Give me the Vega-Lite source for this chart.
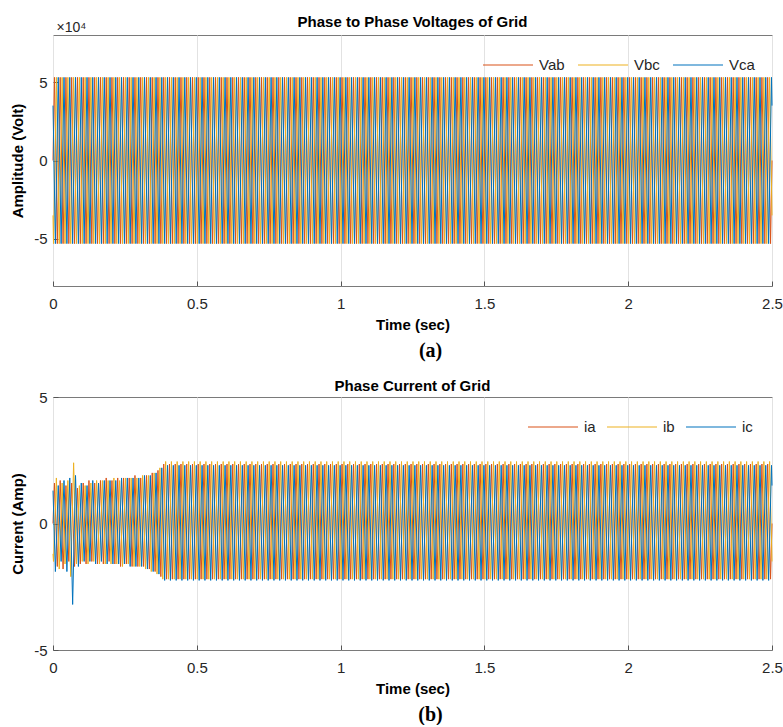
{
"$schema":"https://vega.github.io/schema/vega-lite/v6.json",
"background":"white",
"padding":{"left":10,"top":14,"right":0,"bottom":0},
"spacing":17,
"resolve":{"scale":{"color":"independent"},"legend":{"color":"independent"}},
"config":{
"view":{"stroke":"#7a7a7a","strokeWidth":1},
"font":"Liberation Sans",
"title":{"font":"Liberation Sans","fontSize":15,"fontWeight":"bold","color":"#000000","frame":"group"},
"axis":{"labelFont":"Liberation Sans","labelFontSize":15,"labelColor":"#262626","titleFont":"Liberation Sans","titleFontSize":15,"titleFontWeight":"bold","titleColor":"#000000","domain":false,"tickColor":"#555555","tickSize":-5,"grid":false,"labelFlush":false,"labelOverlap":false,"labelExpr":"''+datum.value"},
"legend":{"title":null,"orient":"none","direction":"horizontal","symbolType":"stroke","symbolSize":2500,"symbolStrokeWidth":1.2,"labelFont":"Liberation Sans","labelFontSize":15,"labelColor":"#262626","labelOffset":5,"columnPadding":10,"padding":0}
},
"datasets":{
"v":[{"t":0,"a":0,"b":-3.5,"c":3.5},
{"t":0.0017,"b":-5.3},{"t":0.005,"a":5.3},{"t":0.0083,"c":-5.3},{"t":0.0117,"b":5.3},{"t":0.015,"a":-5.3},{"t":0.0183,"c":5.3},
{"t":0.0217,"b":-5.3},{"t":0.025,"a":5.3},{"t":0.0283,"c":-5.3},{"t":0.0317,"b":5.3},{"t":0.035,"a":-5.3},{"t":0.0383,"c":5.3},
{"t":0.0417,"b":-5.3},{"t":0.045,"a":5.3},{"t":0.0483,"c":-5.3},{"t":0.0517,"b":5.3},{"t":0.055,"a":-5.3},{"t":0.0583,"c":5.3},
{"t":0.0617,"b":-5.3},{"t":0.065,"a":5.3},{"t":0.0683,"c":-5.3},{"t":0.0717,"b":5.3},{"t":0.075,"a":-5.3},{"t":0.0783,"c":5.3},
{"t":0.0817,"b":-5.3},{"t":0.085,"a":5.3},{"t":0.0883,"c":-5.3},{"t":0.0917,"b":5.3},{"t":0.095,"a":-5.3},{"t":0.0983,"c":5.3},
{"t":0.1017,"b":-5.3},{"t":0.105,"a":5.3},{"t":0.1083,"c":-5.3},{"t":0.1117,"b":5.3},{"t":0.115,"a":-5.3},{"t":0.1183,"c":5.3},
{"t":0.1217,"b":-5.3},{"t":0.125,"a":5.3},{"t":0.1283,"c":-5.3},{"t":0.1317,"b":5.3},{"t":0.135,"a":-5.3},{"t":0.1383,"c":5.3},
{"t":0.1417,"b":-5.3},{"t":0.145,"a":5.3},{"t":0.1483,"c":-5.3},{"t":0.1517,"b":5.3},{"t":0.155,"a":-5.3},{"t":0.1583,"c":5.3},
{"t":0.1617,"b":-5.3},{"t":0.165,"a":5.3},{"t":0.1683,"c":-5.3},{"t":0.1717,"b":5.3},{"t":0.175,"a":-5.3},{"t":0.1783,"c":5.3},
{"t":0.1817,"b":-5.3},{"t":0.185,"a":5.3},{"t":0.1883,"c":-5.3},{"t":0.1917,"b":5.3},{"t":0.195,"a":-5.3},{"t":0.1983,"c":5.3},
{"t":0.2017,"b":-5.3},{"t":0.205,"a":5.3},{"t":0.2083,"c":-5.3},{"t":0.2117,"b":5.3},{"t":0.215,"a":-5.3},{"t":0.2183,"c":5.3},
{"t":0.2217,"b":-5.3},{"t":0.225,"a":5.3},{"t":0.2283,"c":-5.3},{"t":0.2317,"b":5.3},{"t":0.235,"a":-5.3},{"t":0.2383,"c":5.3},
{"t":0.2417,"b":-5.3},{"t":0.245,"a":5.3},{"t":0.2483,"c":-5.3},{"t":0.2517,"b":5.3},{"t":0.255,"a":-5.3},{"t":0.2583,"c":5.3},
{"t":0.2617,"b":-5.3},{"t":0.265,"a":5.3},{"t":0.2683,"c":-5.3},{"t":0.2717,"b":5.3},{"t":0.275,"a":-5.3},{"t":0.2783,"c":5.3},
{"t":0.2817,"b":-5.3},{"t":0.285,"a":5.3},{"t":0.2883,"c":-5.3},{"t":0.2917,"b":5.3},{"t":0.295,"a":-5.3},{"t":0.2983,"c":5.3},
{"t":0.3017,"b":-5.3},{"t":0.305,"a":5.3},{"t":0.3083,"c":-5.3},{"t":0.3117,"b":5.3},{"t":0.315,"a":-5.3},{"t":0.3183,"c":5.3},
{"t":0.3217,"b":-5.3},{"t":0.325,"a":5.3},{"t":0.3283,"c":-5.3},{"t":0.3317,"b":5.3},{"t":0.335,"a":-5.3},{"t":0.3383,"c":5.3},
{"t":0.3417,"b":-5.3},{"t":0.345,"a":5.3},{"t":0.3483,"c":-5.3},{"t":0.3517,"b":5.3},{"t":0.355,"a":-5.3},{"t":0.3583,"c":5.3},
{"t":0.3617,"b":-5.3},{"t":0.365,"a":5.3},{"t":0.3683,"c":-5.3},{"t":0.3717,"b":5.3},{"t":0.375,"a":-5.3},{"t":0.3783,"c":5.3},
{"t":0.3817,"b":-5.3},{"t":0.385,"a":5.3},{"t":0.3883,"c":-5.3},{"t":0.3917,"b":5.3},{"t":0.395,"a":-5.3},{"t":0.3983,"c":5.3},
{"t":0.4017,"b":-5.3},{"t":0.405,"a":5.3},{"t":0.4083,"c":-5.3},{"t":0.4117,"b":5.3},{"t":0.415,"a":-5.3},{"t":0.4183,"c":5.3},
{"t":0.4217,"b":-5.3},{"t":0.425,"a":5.3},{"t":0.4283,"c":-5.3},{"t":0.4317,"b":5.3},{"t":0.435,"a":-5.3},{"t":0.4383,"c":5.3},
{"t":0.4417,"b":-5.3},{"t":0.445,"a":5.3},{"t":0.4483,"c":-5.3},{"t":0.4517,"b":5.3},{"t":0.455,"a":-5.3},{"t":0.4583,"c":5.3},
{"t":0.4617,"b":-5.3},{"t":0.465,"a":5.3},{"t":0.4683,"c":-5.3},{"t":0.4717,"b":5.3},{"t":0.475,"a":-5.3},{"t":0.4783,"c":5.3},
{"t":0.4817,"b":-5.3},{"t":0.485,"a":5.3},{"t":0.4883,"c":-5.3},{"t":0.4917,"b":5.3},{"t":0.495,"a":-5.3},{"t":0.4983,"c":5.3},
{"t":0.5017,"b":-5.3},{"t":0.505,"a":5.3},{"t":0.5083,"c":-5.3},{"t":0.5117,"b":5.3},{"t":0.515,"a":-5.3},{"t":0.5183,"c":5.3},
{"t":0.5217,"b":-5.3},{"t":0.525,"a":5.3},{"t":0.5283,"c":-5.3},{"t":0.5317,"b":5.3},{"t":0.535,"a":-5.3},{"t":0.5383,"c":5.3},
{"t":0.5417,"b":-5.3},{"t":0.545,"a":5.3},{"t":0.5483,"c":-5.3},{"t":0.5517,"b":5.3},{"t":0.555,"a":-5.3},{"t":0.5583,"c":5.3},
{"t":0.5617,"b":-5.3},{"t":0.565,"a":5.3},{"t":0.5683,"c":-5.3},{"t":0.5717,"b":5.3},{"t":0.575,"a":-5.3},{"t":0.5783,"c":5.3},
{"t":0.5817,"b":-5.3},{"t":0.585,"a":5.3},{"t":0.5883,"c":-5.3},{"t":0.5917,"b":5.3},{"t":0.595,"a":-5.3},{"t":0.5983,"c":5.3},
{"t":0.6017,"b":-5.3},{"t":0.605,"a":5.3},{"t":0.6083,"c":-5.3},{"t":0.6117,"b":5.3},{"t":0.615,"a":-5.3},{"t":0.6183,"c":5.3},
{"t":0.6217,"b":-5.3},{"t":0.625,"a":5.3},{"t":0.6283,"c":-5.3},{"t":0.6317,"b":5.3},{"t":0.635,"a":-5.3},{"t":0.6383,"c":5.3},
{"t":0.6417,"b":-5.3},{"t":0.645,"a":5.3},{"t":0.6483,"c":-5.3},{"t":0.6517,"b":5.3},{"t":0.655,"a":-5.3},{"t":0.6583,"c":5.3},
{"t":0.6617,"b":-5.3},{"t":0.665,"a":5.3},{"t":0.6683,"c":-5.3},{"t":0.6717,"b":5.3},{"t":0.675,"a":-5.3},{"t":0.6783,"c":5.3},
{"t":0.6817,"b":-5.3},{"t":0.685,"a":5.3},{"t":0.6883,"c":-5.3},{"t":0.6917,"b":5.3},{"t":0.695,"a":-5.3},{"t":0.6983,"c":5.3},
{"t":0.7017,"b":-5.3},{"t":0.705,"a":5.3},{"t":0.7083,"c":-5.3},{"t":0.7117,"b":5.3},{"t":0.715,"a":-5.3},{"t":0.7183,"c":5.3},
{"t":0.7217,"b":-5.3},{"t":0.725,"a":5.3},{"t":0.7283,"c":-5.3},{"t":0.7317,"b":5.3},{"t":0.735,"a":-5.3},{"t":0.7383,"c":5.3},
{"t":0.7417,"b":-5.3},{"t":0.745,"a":5.3},{"t":0.7483,"c":-5.3},{"t":0.7517,"b":5.3},{"t":0.755,"a":-5.3},{"t":0.7583,"c":5.3},
{"t":0.7617,"b":-5.3},{"t":0.765,"a":5.3},{"t":0.7683,"c":-5.3},{"t":0.7717,"b":5.3},{"t":0.775,"a":-5.3},{"t":0.7783,"c":5.3},
{"t":0.7817,"b":-5.3},{"t":0.785,"a":5.3},{"t":0.7883,"c":-5.3},{"t":0.7917,"b":5.3},{"t":0.795,"a":-5.3},{"t":0.7983,"c":5.3},
{"t":0.8017,"b":-5.3},{"t":0.805,"a":5.3},{"t":0.8083,"c":-5.3},{"t":0.8117,"b":5.3},{"t":0.815,"a":-5.3},{"t":0.8183,"c":5.3},
{"t":0.8217,"b":-5.3},{"t":0.825,"a":5.3},{"t":0.8283,"c":-5.3},{"t":0.8317,"b":5.3},{"t":0.835,"a":-5.3},{"t":0.8383,"c":5.3},
{"t":0.8417,"b":-5.3},{"t":0.845,"a":5.3},{"t":0.8483,"c":-5.3},{"t":0.8517,"b":5.3},{"t":0.855,"a":-5.3},{"t":0.8583,"c":5.3},
{"t":0.8617,"b":-5.3},{"t":0.865,"a":5.3},{"t":0.8683,"c":-5.3},{"t":0.8717,"b":5.3},{"t":0.875,"a":-5.3},{"t":0.8783,"c":5.3},
{"t":0.8817,"b":-5.3},{"t":0.885,"a":5.3},{"t":0.8883,"c":-5.3},{"t":0.8917,"b":5.3},{"t":0.895,"a":-5.3},{"t":0.8983,"c":5.3},
{"t":0.9017,"b":-5.3},{"t":0.905,"a":5.3},{"t":0.9083,"c":-5.3},{"t":0.9117,"b":5.3},{"t":0.915,"a":-5.3},{"t":0.9183,"c":5.3},
{"t":0.9217,"b":-5.3},{"t":0.925,"a":5.3},{"t":0.9283,"c":-5.3},{"t":0.9317,"b":5.3},{"t":0.935,"a":-5.3},{"t":0.9383,"c":5.3},
{"t":0.9417,"b":-5.3},{"t":0.945,"a":5.3},{"t":0.9483,"c":-5.3},{"t":0.9517,"b":5.3},{"t":0.955,"a":-5.3},{"t":0.9583,"c":5.3},
{"t":0.9617,"b":-5.3},{"t":0.965,"a":5.3},{"t":0.9683,"c":-5.3},{"t":0.9717,"b":5.3},{"t":0.975,"a":-5.3},{"t":0.9783,"c":5.3},
{"t":0.9817,"b":-5.3},{"t":0.985,"a":5.3},{"t":0.9883,"c":-5.3},{"t":0.9917,"b":5.3},{"t":0.995,"a":-5.3},{"t":0.9983,"c":5.3},
{"t":1.0017,"b":-5.3},{"t":1.005,"a":5.3},{"t":1.0083,"c":-5.3},{"t":1.0117,"b":5.3},{"t":1.015,"a":-5.3},{"t":1.0183,"c":5.3},
{"t":1.0217,"b":-5.3},{"t":1.025,"a":5.3},{"t":1.0283,"c":-5.3},{"t":1.0317,"b":5.3},{"t":1.035,"a":-5.3},{"t":1.0383,"c":5.3},
{"t":1.0417,"b":-5.3},{"t":1.045,"a":5.3},{"t":1.0483,"c":-5.3},{"t":1.0517,"b":5.3},{"t":1.055,"a":-5.3},{"t":1.0583,"c":5.3},
{"t":1.0617,"b":-5.3},{"t":1.065,"a":5.3},{"t":1.0683,"c":-5.3},{"t":1.0717,"b":5.3},{"t":1.075,"a":-5.3},{"t":1.0783,"c":5.3},
{"t":1.0817,"b":-5.3},{"t":1.085,"a":5.3},{"t":1.0883,"c":-5.3},{"t":1.0917,"b":5.3},{"t":1.095,"a":-5.3},{"t":1.0983,"c":5.3},
{"t":1.1017,"b":-5.3},{"t":1.105,"a":5.3},{"t":1.1083,"c":-5.3},{"t":1.1117,"b":5.3},{"t":1.115,"a":-5.3},{"t":1.1183,"c":5.3},
{"t":1.1217,"b":-5.3},{"t":1.125,"a":5.3},{"t":1.1283,"c":-5.3},{"t":1.1317,"b":5.3},{"t":1.135,"a":-5.3},{"t":1.1383,"c":5.3},
{"t":1.1417,"b":-5.3},{"t":1.145,"a":5.3},{"t":1.1483,"c":-5.3},{"t":1.1517,"b":5.3},{"t":1.155,"a":-5.3},{"t":1.1583,"c":5.3},
{"t":1.1617,"b":-5.3},{"t":1.165,"a":5.3},{"t":1.1683,"c":-5.3},{"t":1.1717,"b":5.3},{"t":1.175,"a":-5.3},{"t":1.1783,"c":5.3},
{"t":1.1817,"b":-5.3},{"t":1.185,"a":5.3},{"t":1.1883,"c":-5.3},{"t":1.1917,"b":5.3},{"t":1.195,"a":-5.3},{"t":1.1983,"c":5.3},
{"t":1.2017,"b":-5.3},{"t":1.205,"a":5.3},{"t":1.2083,"c":-5.3},{"t":1.2117,"b":5.3},{"t":1.215,"a":-5.3},{"t":1.2183,"c":5.3},
{"t":1.2217,"b":-5.3},{"t":1.225,"a":5.3},{"t":1.2283,"c":-5.3},{"t":1.2317,"b":5.3},{"t":1.235,"a":-5.3},{"t":1.2383,"c":5.3},
{"t":1.2417,"b":-5.3},{"t":1.245,"a":5.3},{"t":1.2483,"c":-5.3},{"t":1.2517,"b":5.3},{"t":1.255,"a":-5.3},{"t":1.2583,"c":5.3},
{"t":1.2617,"b":-5.3},{"t":1.265,"a":5.3},{"t":1.2683,"c":-5.3},{"t":1.2717,"b":5.3},{"t":1.275,"a":-5.3},{"t":1.2783,"c":5.3},
{"t":1.2817,"b":-5.3},{"t":1.285,"a":5.3},{"t":1.2883,"c":-5.3},{"t":1.2917,"b":5.3},{"t":1.295,"a":-5.3},{"t":1.2983,"c":5.3},
{"t":1.3017,"b":-5.3},{"t":1.305,"a":5.3},{"t":1.3083,"c":-5.3},{"t":1.3117,"b":5.3},{"t":1.315,"a":-5.3},{"t":1.3183,"c":5.3},
{"t":1.3217,"b":-5.3},{"t":1.325,"a":5.3},{"t":1.3283,"c":-5.3},{"t":1.3317,"b":5.3},{"t":1.335,"a":-5.3},{"t":1.3383,"c":5.3},
{"t":1.3417,"b":-5.3},{"t":1.345,"a":5.3},{"t":1.3483,"c":-5.3},{"t":1.3517,"b":5.3},{"t":1.355,"a":-5.3},{"t":1.3583,"c":5.3},
{"t":1.3617,"b":-5.3},{"t":1.365,"a":5.3},{"t":1.3683,"c":-5.3},{"t":1.3717,"b":5.3},{"t":1.375,"a":-5.3},{"t":1.3783,"c":5.3},
{"t":1.3817,"b":-5.3},{"t":1.385,"a":5.3},{"t":1.3883,"c":-5.3},{"t":1.3917,"b":5.3},{"t":1.395,"a":-5.3},{"t":1.3983,"c":5.3},
{"t":1.4017,"b":-5.3},{"t":1.405,"a":5.3},{"t":1.4083,"c":-5.3},{"t":1.4117,"b":5.3},{"t":1.415,"a":-5.3},{"t":1.4183,"c":5.3},
{"t":1.4217,"b":-5.3},{"t":1.425,"a":5.3},{"t":1.4283,"c":-5.3},{"t":1.4317,"b":5.3},{"t":1.435,"a":-5.3},{"t":1.4383,"c":5.3},
{"t":1.4417,"b":-5.3},{"t":1.445,"a":5.3},{"t":1.4483,"c":-5.3},{"t":1.4517,"b":5.3},{"t":1.455,"a":-5.3},{"t":1.4583,"c":5.3},
{"t":1.4617,"b":-5.3},{"t":1.465,"a":5.3},{"t":1.4683,"c":-5.3},{"t":1.4717,"b":5.3},{"t":1.475,"a":-5.3},{"t":1.4783,"c":5.3},
{"t":1.4817,"b":-5.3},{"t":1.485,"a":5.3},{"t":1.4883,"c":-5.3},{"t":1.4917,"b":5.3},{"t":1.495,"a":-5.3},{"t":1.4983,"c":5.3},
{"t":1.5017,"b":-5.3},{"t":1.505,"a":5.3},{"t":1.5083,"c":-5.3},{"t":1.5117,"b":5.3},{"t":1.515,"a":-5.3},{"t":1.5183,"c":5.3},
{"t":1.5217,"b":-5.3},{"t":1.525,"a":5.3},{"t":1.5283,"c":-5.3},{"t":1.5317,"b":5.3},{"t":1.535,"a":-5.3},{"t":1.5383,"c":5.3},
{"t":1.5417,"b":-5.3},{"t":1.545,"a":5.3},{"t":1.5483,"c":-5.3},{"t":1.5517,"b":5.3},{"t":1.555,"a":-5.3},{"t":1.5583,"c":5.3},
{"t":1.5617,"b":-5.3},{"t":1.565,"a":5.3},{"t":1.5683,"c":-5.3},{"t":1.5717,"b":5.3},{"t":1.575,"a":-5.3},{"t":1.5783,"c":5.3},
{"t":1.5817,"b":-5.3},{"t":1.585,"a":5.3},{"t":1.5883,"c":-5.3},{"t":1.5917,"b":5.3},{"t":1.595,"a":-5.3},{"t":1.5983,"c":5.3},
{"t":1.6017,"b":-5.3},{"t":1.605,"a":5.3},{"t":1.6083,"c":-5.3},{"t":1.6117,"b":5.3},{"t":1.615,"a":-5.3},{"t":1.6183,"c":5.3},
{"t":1.6217,"b":-5.3},{"t":1.625,"a":5.3},{"t":1.6283,"c":-5.3},{"t":1.6317,"b":5.3},{"t":1.635,"a":-5.3},{"t":1.6383,"c":5.3},
{"t":1.6417,"b":-5.3},{"t":1.645,"a":5.3},{"t":1.6483,"c":-5.3},{"t":1.6517,"b":5.3},{"t":1.655,"a":-5.3},{"t":1.6583,"c":5.3},
{"t":1.6617,"b":-5.3},{"t":1.665,"a":5.3},{"t":1.6683,"c":-5.3},{"t":1.6717,"b":5.3},{"t":1.675,"a":-5.3},{"t":1.6783,"c":5.3},
{"t":1.6817,"b":-5.3},{"t":1.685,"a":5.3},{"t":1.6883,"c":-5.3},{"t":1.6917,"b":5.3},{"t":1.695,"a":-5.3},{"t":1.6983,"c":5.3},
{"t":1.7017,"b":-5.3},{"t":1.705,"a":5.3},{"t":1.7083,"c":-5.3},{"t":1.7117,"b":5.3},{"t":1.715,"a":-5.3},{"t":1.7183,"c":5.3},
{"t":1.7217,"b":-5.3},{"t":1.725,"a":5.3},{"t":1.7283,"c":-5.3},{"t":1.7317,"b":5.3},{"t":1.735,"a":-5.3},{"t":1.7383,"c":5.3},
{"t":1.7417,"b":-5.3},{"t":1.745,"a":5.3},{"t":1.7483,"c":-5.3},{"t":1.7517,"b":5.3},{"t":1.755,"a":-5.3},{"t":1.7583,"c":5.3},
{"t":1.7617,"b":-5.3},{"t":1.765,"a":5.3},{"t":1.7683,"c":-5.3},{"t":1.7717,"b":5.3},{"t":1.775,"a":-5.3},{"t":1.7783,"c":5.3},
{"t":1.7817,"b":-5.3},{"t":1.785,"a":5.3},{"t":1.7883,"c":-5.3},{"t":1.7917,"b":5.3},{"t":1.795,"a":-5.3},{"t":1.7983,"c":5.3},
{"t":1.8017,"b":-5.3},{"t":1.805,"a":5.3},{"t":1.8083,"c":-5.3},{"t":1.8117,"b":5.3},{"t":1.815,"a":-5.3},{"t":1.8183,"c":5.3},
{"t":1.8217,"b":-5.3},{"t":1.825,"a":5.3},{"t":1.8283,"c":-5.3},{"t":1.8317,"b":5.3},{"t":1.835,"a":-5.3},{"t":1.8383,"c":5.3},
{"t":1.8417,"b":-5.3},{"t":1.845,"a":5.3},{"t":1.8483,"c":-5.3},{"t":1.8517,"b":5.3},{"t":1.855,"a":-5.3},{"t":1.8583,"c":5.3},
{"t":1.8617,"b":-5.3},{"t":1.865,"a":5.3},{"t":1.8683,"c":-5.3},{"t":1.8717,"b":5.3},{"t":1.875,"a":-5.3},{"t":1.8783,"c":5.3},
{"t":1.8817,"b":-5.3},{"t":1.885,"a":5.3},{"t":1.8883,"c":-5.3},{"t":1.8917,"b":5.3},{"t":1.895,"a":-5.3},{"t":1.8983,"c":5.3},
{"t":1.9017,"b":-5.3},{"t":1.905,"a":5.3},{"t":1.9083,"c":-5.3},{"t":1.9117,"b":5.3},{"t":1.915,"a":-5.3},{"t":1.9183,"c":5.3},
{"t":1.9217,"b":-5.3},{"t":1.925,"a":5.3},{"t":1.9283,"c":-5.3},{"t":1.9317,"b":5.3},{"t":1.935,"a":-5.3},{"t":1.9383,"c":5.3},
{"t":1.9417,"b":-5.3},{"t":1.945,"a":5.3},{"t":1.9483,"c":-5.3},{"t":1.9517,"b":5.3},{"t":1.955,"a":-5.3},{"t":1.9583,"c":5.3},
{"t":1.9617,"b":-5.3},{"t":1.965,"a":5.3},{"t":1.9683,"c":-5.3},{"t":1.9717,"b":5.3},{"t":1.975,"a":-5.3},{"t":1.9783,"c":5.3},
{"t":1.9817,"b":-5.3},{"t":1.985,"a":5.3},{"t":1.9883,"c":-5.3},{"t":1.9917,"b":5.3},{"t":1.995,"a":-5.3},{"t":1.9983,"c":5.3},
{"t":2.0017,"b":-5.3},{"t":2.005,"a":5.3},{"t":2.0083,"c":-5.3},{"t":2.0117,"b":5.3},{"t":2.015,"a":-5.3},{"t":2.0183,"c":5.3},
{"t":2.0217,"b":-5.3},{"t":2.025,"a":5.3},{"t":2.0283,"c":-5.3},{"t":2.0317,"b":5.3},{"t":2.035,"a":-5.3},{"t":2.0383,"c":5.3},
{"t":2.0417,"b":-5.3},{"t":2.045,"a":5.3},{"t":2.0483,"c":-5.3},{"t":2.0517,"b":5.3},{"t":2.055,"a":-5.3},{"t":2.0583,"c":5.3},
{"t":2.0617,"b":-5.3},{"t":2.065,"a":5.3},{"t":2.0683,"c":-5.3},{"t":2.0717,"b":5.3},{"t":2.075,"a":-5.3},{"t":2.0783,"c":5.3},
{"t":2.0817,"b":-5.3},{"t":2.085,"a":5.3},{"t":2.0883,"c":-5.3},{"t":2.0917,"b":5.3},{"t":2.095,"a":-5.3},{"t":2.0983,"c":5.3},
{"t":2.1017,"b":-5.3},{"t":2.105,"a":5.3},{"t":2.1083,"c":-5.3},{"t":2.1117,"b":5.3},{"t":2.115,"a":-5.3},{"t":2.1183,"c":5.3},
{"t":2.1217,"b":-5.3},{"t":2.125,"a":5.3},{"t":2.1283,"c":-5.3},{"t":2.1317,"b":5.3},{"t":2.135,"a":-5.3},{"t":2.1383,"c":5.3},
{"t":2.1417,"b":-5.3},{"t":2.145,"a":5.3},{"t":2.1483,"c":-5.3},{"t":2.1517,"b":5.3},{"t":2.155,"a":-5.3},{"t":2.1583,"c":5.3},
{"t":2.1617,"b":-5.3},{"t":2.165,"a":5.3},{"t":2.1683,"c":-5.3},{"t":2.1717,"b":5.3},{"t":2.175,"a":-5.3},{"t":2.1783,"c":5.3},
{"t":2.1817,"b":-5.3},{"t":2.185,"a":5.3},{"t":2.1883,"c":-5.3},{"t":2.1917,"b":5.3},{"t":2.195,"a":-5.3},{"t":2.1983,"c":5.3},
{"t":2.2017,"b":-5.3},{"t":2.205,"a":5.3},{"t":2.2083,"c":-5.3},{"t":2.2117,"b":5.3},{"t":2.215,"a":-5.3},{"t":2.2183,"c":5.3},
{"t":2.2217,"b":-5.3},{"t":2.225,"a":5.3},{"t":2.2283,"c":-5.3},{"t":2.2317,"b":5.3},{"t":2.235,"a":-5.3},{"t":2.2383,"c":5.3},
{"t":2.2417,"b":-5.3},{"t":2.245,"a":5.3},{"t":2.2483,"c":-5.3},{"t":2.2517,"b":5.3},{"t":2.255,"a":-5.3},{"t":2.2583,"c":5.3},
{"t":2.2617,"b":-5.3},{"t":2.265,"a":5.3},{"t":2.2683,"c":-5.3},{"t":2.2717,"b":5.3},{"t":2.275,"a":-5.3},{"t":2.2783,"c":5.3},
{"t":2.2817,"b":-5.3},{"t":2.285,"a":5.3},{"t":2.2883,"c":-5.3},{"t":2.2917,"b":5.3},{"t":2.295,"a":-5.3},{"t":2.2983,"c":5.3},
{"t":2.3017,"b":-5.3},{"t":2.305,"a":5.3},{"t":2.3083,"c":-5.3},{"t":2.3117,"b":5.3},{"t":2.315,"a":-5.3},{"t":2.3183,"c":5.3},
{"t":2.3217,"b":-5.3},{"t":2.325,"a":5.3},{"t":2.3283,"c":-5.3},{"t":2.3317,"b":5.3},{"t":2.335,"a":-5.3},{"t":2.3383,"c":5.3},
{"t":2.3417,"b":-5.3},{"t":2.345,"a":5.3},{"t":2.3483,"c":-5.3},{"t":2.3517,"b":5.3},{"t":2.355,"a":-5.3},{"t":2.3583,"c":5.3},
{"t":2.3617,"b":-5.3},{"t":2.365,"a":5.3},{"t":2.3683,"c":-5.3},{"t":2.3717,"b":5.3},{"t":2.375,"a":-5.3},{"t":2.3783,"c":5.3},
{"t":2.3817,"b":-5.3},{"t":2.385,"a":5.3},{"t":2.3883,"c":-5.3},{"t":2.3917,"b":5.3},{"t":2.395,"a":-5.3},{"t":2.3983,"c":5.3},
{"t":2.4017,"b":-5.3},{"t":2.405,"a":5.3},{"t":2.4083,"c":-5.3},{"t":2.4117,"b":5.3},{"t":2.415,"a":-5.3},{"t":2.4183,"c":5.3},
{"t":2.4217,"b":-5.3},{"t":2.425,"a":5.3},{"t":2.4283,"c":-5.3},{"t":2.4317,"b":5.3},{"t":2.435,"a":-5.3},{"t":2.4383,"c":5.3},
{"t":2.4417,"b":-5.3},{"t":2.445,"a":5.3},{"t":2.4483,"c":-5.3},{"t":2.4517,"b":5.3},{"t":2.455,"a":-5.3},{"t":2.4583,"c":5.3},
{"t":2.4617,"b":-5.3},{"t":2.465,"a":5.3},{"t":2.4683,"c":-5.3},{"t":2.4717,"b":5.3},{"t":2.475,"a":-5.3},{"t":2.4783,"c":5.3},
{"t":2.4817,"b":-5.3},{"t":2.485,"a":5.3},{"t":2.4883,"c":-5.3},{"t":2.4917,"b":5.3},{"t":2.495,"a":-5.3},{"t":2.4983,"c":5.3},
{"t":2.5,"a":0,"b":-3.5,"c":3.5}],
"i":[{"t":0,"a":0,"b":-1.2,"c":1.3},
{"t":0.0017,"b":-1.5},{"t":0.005,"a":1.6},{"t":0.0083,"c":-1.9},{"t":0.0117,"b":1.8},{"t":0.015,"a":-1.7},{"t":0.0183,"c":1.5},
{"t":0.0217,"b":-1.8},{"t":0.025,"a":1.7},{"t":0.0283,"c":-1.5},{"t":0.0317,"b":1.6},{"t":0.035,"a":-1.8},{"t":0.0383,"c":1.7},
{"t":0.0417,"b":-1.6},{"t":0.045,"a":1.5},{"t":0.0483,"c":-1.9},{"t":0.0517,"b":1.7},{"t":0.055,"a":-1.5},{"t":0.0583,"c":1.8},
{"t":0.0617,"b":-2.1},{"t":0.065,"a":1.6},{"t":0.0683,"c":-3.2},{"t":0.0717,"b":2.4},{"t":0.075,"a":-1.7},{"t":0.0783,"c":1.9},
{"t":0.0817,"b":-1.6},{"t":0.085,"a":1.4},{"t":0.0883,"c":-1.7},{"t":0.0917,"b":1.5},{"t":0.095,"a":-1.6},{"t":0.0983,"c":1.6},
{"t":0.1017,"b":-1.5},{"t":0.105,"a":1.6},{"t":0.1083,"c":-1.5},{"t":0.1117,"b":1.5},{"t":0.115,"a":-1.6},{"t":0.1183,"c":1.5},
{"t":0.1217,"b":-1.6},{"t":0.125,"a":1.7},{"t":0.1283,"c":-1.5},{"t":0.1317,"b":1.6},{"t":0.135,"a":-1.5},{"t":0.1383,"c":1.7},
{"t":0.1417,"b":-1.5},{"t":0.145,"a":1.6},{"t":0.1483,"c":-1.6},{"t":0.1517,"b":1.7},{"t":0.155,"a":-1.6},{"t":0.1583,"c":1.6},
{"t":0.1617,"b":-1.6},{"t":0.165,"a":1.7},{"t":0.1683,"c":-1.5},{"t":0.1717,"b":1.7},{"t":0.175,"a":-1.6},{"t":0.1783,"c":1.7},
{"t":0.1817,"b":-1.6},{"t":0.185,"a":1.8},{"t":0.1883,"c":-1.6},{"t":0.1917,"b":1.7},{"t":0.195,"a":-1.5},{"t":0.1983,"c":1.7},
{"t":0.2017,"b":-1.6},{"t":0.205,"a":1.7},{"t":0.2083,"c":-1.6},{"t":0.2117,"b":1.8},{"t":0.215,"a":-1.6},{"t":0.2183,"c":1.7},
{"t":0.2217,"b":-1.6},{"t":0.225,"a":1.8},{"t":0.2283,"c":-1.6},{"t":0.2317,"b":1.7},{"t":0.235,"a":-1.7},{"t":0.2383,"c":1.8},
{"t":0.2417,"b":-1.7},{"t":0.245,"a":1.8},{"t":0.2483,"c":-1.6},{"t":0.2517,"b":1.8},{"t":0.255,"a":-1.6},{"t":0.2583,"c":1.8},
{"t":0.2617,"b":-1.6},{"t":0.265,"a":1.8},{"t":0.2683,"c":-1.7},{"t":0.2717,"b":1.8},{"t":0.275,"a":-1.7},{"t":0.2783,"c":1.8},
{"t":0.2817,"b":-1.7},{"t":0.285,"a":1.9},{"t":0.2883,"c":-1.7},{"t":0.2917,"b":1.8},{"t":0.295,"a":-1.7},{"t":0.2983,"c":1.8},
{"t":0.3017,"b":-1.7},{"t":0.305,"a":1.8},{"t":0.3083,"c":-1.7},{"t":0.3117,"b":1.9},{"t":0.315,"a":-1.7},{"t":0.3183,"c":1.9},
{"t":0.3217,"b":-1.8},{"t":0.325,"a":1.9},{"t":0.3283,"c":-1.8},{"t":0.3317,"b":1.9},{"t":0.335,"a":-1.8},{"t":0.3383,"c":1.9},
{"t":0.3417,"b":-1.9},{"t":0.345,"a":2.0},{"t":0.3483,"c":-1.9},{"t":0.3517,"b":2.0},{"t":0.355,"a":-1.9},{"t":0.3583,"c":2.0},
{"t":0.3617,"b":-2.0},{"t":0.365,"a":2.1},{"t":0.3683,"c":-2.0},{"t":0.3717,"b":2.2},{"t":0.375,"a":-2.1},{"t":0.3783,"c":2.2},
{"t":0.3817,"b":-2.2},{"t":0.385,"a":2.35},{"t":0.3883,"c":-2.25},{"t":0.3917,"b":2.45},{"t":0.395,"a":-2.2},{"t":0.3983,"c":2.3},
{"t":0.4017,"b":-2.2},{"t":0.405,"a":2.35},{"t":0.4083,"c":-2.25},{"t":0.4117,"b":2.45},{"t":0.415,"a":-2.2},{"t":0.4183,"c":2.3},
{"t":0.4217,"b":-2.2},{"t":0.425,"a":2.35},{"t":0.4283,"c":-2.25},{"t":0.4317,"b":2.45},{"t":0.435,"a":-2.2},{"t":0.4383,"c":2.3},
{"t":0.4417,"b":-2.2},{"t":0.445,"a":2.35},{"t":0.4483,"c":-2.25},{"t":0.4517,"b":2.45},{"t":0.455,"a":-2.2},{"t":0.4583,"c":2.3},
{"t":0.4617,"b":-2.2},{"t":0.465,"a":2.35},{"t":0.4683,"c":-2.25},{"t":0.4717,"b":2.45},{"t":0.475,"a":-2.2},{"t":0.4783,"c":2.3},
{"t":0.4817,"b":-2.2},{"t":0.485,"a":2.35},{"t":0.4883,"c":-2.25},{"t":0.4917,"b":2.45},{"t":0.495,"a":-2.2},{"t":0.4983,"c":2.3},
{"t":0.5017,"b":-2.2},{"t":0.505,"a":2.35},{"t":0.5083,"c":-2.25},{"t":0.5117,"b":2.45},{"t":0.515,"a":-2.2},{"t":0.5183,"c":2.3},
{"t":0.5217,"b":-2.2},{"t":0.525,"a":2.35},{"t":0.5283,"c":-2.25},{"t":0.5317,"b":2.45},{"t":0.535,"a":-2.2},{"t":0.5383,"c":2.3},
{"t":0.5417,"b":-2.2},{"t":0.545,"a":2.35},{"t":0.5483,"c":-2.25},{"t":0.5517,"b":2.45},{"t":0.555,"a":-2.2},{"t":0.5583,"c":2.3},
{"t":0.5617,"b":-2.2},{"t":0.565,"a":2.35},{"t":0.5683,"c":-2.25},{"t":0.5717,"b":2.45},{"t":0.575,"a":-2.2},{"t":0.5783,"c":2.3},
{"t":0.5817,"b":-2.2},{"t":0.585,"a":2.35},{"t":0.5883,"c":-2.25},{"t":0.5917,"b":2.45},{"t":0.595,"a":-2.2},{"t":0.5983,"c":2.3},
{"t":0.6017,"b":-2.2},{"t":0.605,"a":2.35},{"t":0.6083,"c":-2.25},{"t":0.6117,"b":2.45},{"t":0.615,"a":-2.2},{"t":0.6183,"c":2.3},
{"t":0.6217,"b":-2.2},{"t":0.625,"a":2.35},{"t":0.6283,"c":-2.25},{"t":0.6317,"b":2.45},{"t":0.635,"a":-2.2},{"t":0.6383,"c":2.3},
{"t":0.6417,"b":-2.2},{"t":0.645,"a":2.35},{"t":0.6483,"c":-2.25},{"t":0.6517,"b":2.45},{"t":0.655,"a":-2.2},{"t":0.6583,"c":2.3},
{"t":0.6617,"b":-2.2},{"t":0.665,"a":2.35},{"t":0.6683,"c":-2.25},{"t":0.6717,"b":2.45},{"t":0.675,"a":-2.2},{"t":0.6783,"c":2.3},
{"t":0.6817,"b":-2.2},{"t":0.685,"a":2.35},{"t":0.6883,"c":-2.25},{"t":0.6917,"b":2.45},{"t":0.695,"a":-2.2},{"t":0.6983,"c":2.3},
{"t":0.7017,"b":-2.2},{"t":0.705,"a":2.35},{"t":0.7083,"c":-2.25},{"t":0.7117,"b":2.45},{"t":0.715,"a":-2.2},{"t":0.7183,"c":2.3},
{"t":0.7217,"b":-2.2},{"t":0.725,"a":2.35},{"t":0.7283,"c":-2.25},{"t":0.7317,"b":2.45},{"t":0.735,"a":-2.2},{"t":0.7383,"c":2.3},
{"t":0.7417,"b":-2.2},{"t":0.745,"a":2.35},{"t":0.7483,"c":-2.25},{"t":0.7517,"b":2.45},{"t":0.755,"a":-2.2},{"t":0.7583,"c":2.3},
{"t":0.7617,"b":-2.2},{"t":0.765,"a":2.35},{"t":0.7683,"c":-2.25},{"t":0.7717,"b":2.45},{"t":0.775,"a":-2.2},{"t":0.7783,"c":2.3},
{"t":0.7817,"b":-2.2},{"t":0.785,"a":2.35},{"t":0.7883,"c":-2.25},{"t":0.7917,"b":2.45},{"t":0.795,"a":-2.2},{"t":0.7983,"c":2.3},
{"t":0.8017,"b":-2.2},{"t":0.805,"a":2.35},{"t":0.8083,"c":-2.25},{"t":0.8117,"b":2.45},{"t":0.815,"a":-2.2},{"t":0.8183,"c":2.3},
{"t":0.8217,"b":-2.2},{"t":0.825,"a":2.35},{"t":0.8283,"c":-2.25},{"t":0.8317,"b":2.45},{"t":0.835,"a":-2.2},{"t":0.8383,"c":2.3},
{"t":0.8417,"b":-2.2},{"t":0.845,"a":2.35},{"t":0.8483,"c":-2.25},{"t":0.8517,"b":2.45},{"t":0.855,"a":-2.2},{"t":0.8583,"c":2.3},
{"t":0.8617,"b":-2.2},{"t":0.865,"a":2.35},{"t":0.8683,"c":-2.25},{"t":0.8717,"b":2.45},{"t":0.875,"a":-2.2},{"t":0.8783,"c":2.3},
{"t":0.8817,"b":-2.2},{"t":0.885,"a":2.35},{"t":0.8883,"c":-2.25},{"t":0.8917,"b":2.45},{"t":0.895,"a":-2.2},{"t":0.8983,"c":2.3},
{"t":0.9017,"b":-2.2},{"t":0.905,"a":2.35},{"t":0.9083,"c":-2.25},{"t":0.9117,"b":2.45},{"t":0.915,"a":-2.2},{"t":0.9183,"c":2.3},
{"t":0.9217,"b":-2.2},{"t":0.925,"a":2.35},{"t":0.9283,"c":-2.25},{"t":0.9317,"b":2.45},{"t":0.935,"a":-2.2},{"t":0.9383,"c":2.3},
{"t":0.9417,"b":-2.2},{"t":0.945,"a":2.35},{"t":0.9483,"c":-2.25},{"t":0.9517,"b":2.45},{"t":0.955,"a":-2.2},{"t":0.9583,"c":2.3},
{"t":0.9617,"b":-2.2},{"t":0.965,"a":2.35},{"t":0.9683,"c":-2.25},{"t":0.9717,"b":2.45},{"t":0.975,"a":-2.2},{"t":0.9783,"c":2.3},
{"t":0.9817,"b":-2.2},{"t":0.985,"a":2.35},{"t":0.9883,"c":-2.25},{"t":0.9917,"b":2.45},{"t":0.995,"a":-2.2},{"t":0.9983,"c":2.3},
{"t":1.0017,"b":-2.2},{"t":1.005,"a":2.35},{"t":1.0083,"c":-2.25},{"t":1.0117,"b":2.45},{"t":1.015,"a":-2.2},{"t":1.0183,"c":2.3},
{"t":1.0217,"b":-2.2},{"t":1.025,"a":2.35},{"t":1.0283,"c":-2.25},{"t":1.0317,"b":2.45},{"t":1.035,"a":-2.2},{"t":1.0383,"c":2.3},
{"t":1.0417,"b":-2.2},{"t":1.045,"a":2.35},{"t":1.0483,"c":-2.25},{"t":1.0517,"b":2.45},{"t":1.055,"a":-2.2},{"t":1.0583,"c":2.3},
{"t":1.0617,"b":-2.2},{"t":1.065,"a":2.35},{"t":1.0683,"c":-2.25},{"t":1.0717,"b":2.45},{"t":1.075,"a":-2.2},{"t":1.0783,"c":2.3},
{"t":1.0817,"b":-2.2},{"t":1.085,"a":2.35},{"t":1.0883,"c":-2.25},{"t":1.0917,"b":2.45},{"t":1.095,"a":-2.2},{"t":1.0983,"c":2.3},
{"t":1.1017,"b":-2.2},{"t":1.105,"a":2.35},{"t":1.1083,"c":-2.25},{"t":1.1117,"b":2.45},{"t":1.115,"a":-2.2},{"t":1.1183,"c":2.3},
{"t":1.1217,"b":-2.2},{"t":1.125,"a":2.35},{"t":1.1283,"c":-2.25},{"t":1.1317,"b":2.45},{"t":1.135,"a":-2.2},{"t":1.1383,"c":2.3},
{"t":1.1417,"b":-2.2},{"t":1.145,"a":2.35},{"t":1.1483,"c":-2.25},{"t":1.1517,"b":2.45},{"t":1.155,"a":-2.2},{"t":1.1583,"c":2.3},
{"t":1.1617,"b":-2.2},{"t":1.165,"a":2.35},{"t":1.1683,"c":-2.25},{"t":1.1717,"b":2.45},{"t":1.175,"a":-2.2},{"t":1.1783,"c":2.3},
{"t":1.1817,"b":-2.2},{"t":1.185,"a":2.35},{"t":1.1883,"c":-2.25},{"t":1.1917,"b":2.45},{"t":1.195,"a":-2.2},{"t":1.1983,"c":2.3},
{"t":1.2017,"b":-2.2},{"t":1.205,"a":2.35},{"t":1.2083,"c":-2.25},{"t":1.2117,"b":2.45},{"t":1.215,"a":-2.2},{"t":1.2183,"c":2.3},
{"t":1.2217,"b":-2.2},{"t":1.225,"a":2.35},{"t":1.2283,"c":-2.25},{"t":1.2317,"b":2.45},{"t":1.235,"a":-2.2},{"t":1.2383,"c":2.3},
{"t":1.2417,"b":-2.2},{"t":1.245,"a":2.35},{"t":1.2483,"c":-2.25},{"t":1.2517,"b":2.45},{"t":1.255,"a":-2.2},{"t":1.2583,"c":2.3},
{"t":1.2617,"b":-2.2},{"t":1.265,"a":2.35},{"t":1.2683,"c":-2.25},{"t":1.2717,"b":2.45},{"t":1.275,"a":-2.2},{"t":1.2783,"c":2.3},
{"t":1.2817,"b":-2.2},{"t":1.285,"a":2.35},{"t":1.2883,"c":-2.25},{"t":1.2917,"b":2.45},{"t":1.295,"a":-2.2},{"t":1.2983,"c":2.3},
{"t":1.3017,"b":-2.2},{"t":1.305,"a":2.35},{"t":1.3083,"c":-2.25},{"t":1.3117,"b":2.45},{"t":1.315,"a":-2.2},{"t":1.3183,"c":2.3},
{"t":1.3217,"b":-2.2},{"t":1.325,"a":2.35},{"t":1.3283,"c":-2.25},{"t":1.3317,"b":2.45},{"t":1.335,"a":-2.2},{"t":1.3383,"c":2.3},
{"t":1.3417,"b":-2.2},{"t":1.345,"a":2.35},{"t":1.3483,"c":-2.25},{"t":1.3517,"b":2.45},{"t":1.355,"a":-2.2},{"t":1.3583,"c":2.3},
{"t":1.3617,"b":-2.2},{"t":1.365,"a":2.35},{"t":1.3683,"c":-2.25},{"t":1.3717,"b":2.45},{"t":1.375,"a":-2.2},{"t":1.3783,"c":2.3},
{"t":1.3817,"b":-2.2},{"t":1.385,"a":2.35},{"t":1.3883,"c":-2.25},{"t":1.3917,"b":2.45},{"t":1.395,"a":-2.2},{"t":1.3983,"c":2.3},
{"t":1.4017,"b":-2.2},{"t":1.405,"a":2.35},{"t":1.4083,"c":-2.25},{"t":1.4117,"b":2.45},{"t":1.415,"a":-2.2},{"t":1.4183,"c":2.3},
{"t":1.4217,"b":-2.2},{"t":1.425,"a":2.35},{"t":1.4283,"c":-2.25},{"t":1.4317,"b":2.45},{"t":1.435,"a":-2.2},{"t":1.4383,"c":2.3},
{"t":1.4417,"b":-2.2},{"t":1.445,"a":2.35},{"t":1.4483,"c":-2.25},{"t":1.4517,"b":2.45},{"t":1.455,"a":-2.2},{"t":1.4583,"c":2.3},
{"t":1.4617,"b":-2.2},{"t":1.465,"a":2.35},{"t":1.4683,"c":-2.25},{"t":1.4717,"b":2.45},{"t":1.475,"a":-2.2},{"t":1.4783,"c":2.3},
{"t":1.4817,"b":-2.2},{"t":1.485,"a":2.35},{"t":1.4883,"c":-2.25},{"t":1.4917,"b":2.45},{"t":1.495,"a":-2.2},{"t":1.4983,"c":2.3},
{"t":1.5017,"b":-2.2},{"t":1.505,"a":2.35},{"t":1.5083,"c":-2.25},{"t":1.5117,"b":2.45},{"t":1.515,"a":-2.2},{"t":1.5183,"c":2.3},
{"t":1.5217,"b":-2.2},{"t":1.525,"a":2.35},{"t":1.5283,"c":-2.25},{"t":1.5317,"b":2.45},{"t":1.535,"a":-2.2},{"t":1.5383,"c":2.3},
{"t":1.5417,"b":-2.2},{"t":1.545,"a":2.35},{"t":1.5483,"c":-2.25},{"t":1.5517,"b":2.45},{"t":1.555,"a":-2.2},{"t":1.5583,"c":2.3},
{"t":1.5617,"b":-2.2},{"t":1.565,"a":2.35},{"t":1.5683,"c":-2.25},{"t":1.5717,"b":2.45},{"t":1.575,"a":-2.2},{"t":1.5783,"c":2.3},
{"t":1.5817,"b":-2.2},{"t":1.585,"a":2.35},{"t":1.5883,"c":-2.25},{"t":1.5917,"b":2.45},{"t":1.595,"a":-2.2},{"t":1.5983,"c":2.3},
{"t":1.6017,"b":-2.2},{"t":1.605,"a":2.35},{"t":1.6083,"c":-2.25},{"t":1.6117,"b":2.45},{"t":1.615,"a":-2.2},{"t":1.6183,"c":2.3},
{"t":1.6217,"b":-2.2},{"t":1.625,"a":2.35},{"t":1.6283,"c":-2.25},{"t":1.6317,"b":2.45},{"t":1.635,"a":-2.2},{"t":1.6383,"c":2.3},
{"t":1.6417,"b":-2.2},{"t":1.645,"a":2.35},{"t":1.6483,"c":-2.25},{"t":1.6517,"b":2.45},{"t":1.655,"a":-2.2},{"t":1.6583,"c":2.3},
{"t":1.6617,"b":-2.2},{"t":1.665,"a":2.35},{"t":1.6683,"c":-2.25},{"t":1.6717,"b":2.45},{"t":1.675,"a":-2.2},{"t":1.6783,"c":2.3},
{"t":1.6817,"b":-2.2},{"t":1.685,"a":2.35},{"t":1.6883,"c":-2.25},{"t":1.6917,"b":2.45},{"t":1.695,"a":-2.2},{"t":1.6983,"c":2.3},
{"t":1.7017,"b":-2.2},{"t":1.705,"a":2.35},{"t":1.7083,"c":-2.25},{"t":1.7117,"b":2.45},{"t":1.715,"a":-2.2},{"t":1.7183,"c":2.3},
{"t":1.7217,"b":-2.2},{"t":1.725,"a":2.35},{"t":1.7283,"c":-2.25},{"t":1.7317,"b":2.45},{"t":1.735,"a":-2.2},{"t":1.7383,"c":2.3},
{"t":1.7417,"b":-2.2},{"t":1.745,"a":2.35},{"t":1.7483,"c":-2.25},{"t":1.7517,"b":2.45},{"t":1.755,"a":-2.2},{"t":1.7583,"c":2.3},
{"t":1.7617,"b":-2.2},{"t":1.765,"a":2.35},{"t":1.7683,"c":-2.25},{"t":1.7717,"b":2.45},{"t":1.775,"a":-2.2},{"t":1.7783,"c":2.3},
{"t":1.7817,"b":-2.2},{"t":1.785,"a":2.35},{"t":1.7883,"c":-2.25},{"t":1.7917,"b":2.45},{"t":1.795,"a":-2.2},{"t":1.7983,"c":2.3},
{"t":1.8017,"b":-2.2},{"t":1.805,"a":2.35},{"t":1.8083,"c":-2.25},{"t":1.8117,"b":2.45},{"t":1.815,"a":-2.2},{"t":1.8183,"c":2.3},
{"t":1.8217,"b":-2.2},{"t":1.825,"a":2.35},{"t":1.8283,"c":-2.25},{"t":1.8317,"b":2.45},{"t":1.835,"a":-2.2},{"t":1.8383,"c":2.3},
{"t":1.8417,"b":-2.2},{"t":1.845,"a":2.35},{"t":1.8483,"c":-2.25},{"t":1.8517,"b":2.45},{"t":1.855,"a":-2.2},{"t":1.8583,"c":2.3},
{"t":1.8617,"b":-2.2},{"t":1.865,"a":2.35},{"t":1.8683,"c":-2.25},{"t":1.8717,"b":2.45},{"t":1.875,"a":-2.2},{"t":1.8783,"c":2.3},
{"t":1.8817,"b":-2.2},{"t":1.885,"a":2.35},{"t":1.8883,"c":-2.25},{"t":1.8917,"b":2.45},{"t":1.895,"a":-2.2},{"t":1.8983,"c":2.3},
{"t":1.9017,"b":-2.2},{"t":1.905,"a":2.35},{"t":1.9083,"c":-2.25},{"t":1.9117,"b":2.45},{"t":1.915,"a":-2.2},{"t":1.9183,"c":2.3},
{"t":1.9217,"b":-2.2},{"t":1.925,"a":2.35},{"t":1.9283,"c":-2.25},{"t":1.9317,"b":2.45},{"t":1.935,"a":-2.2},{"t":1.9383,"c":2.3},
{"t":1.9417,"b":-2.2},{"t":1.945,"a":2.35},{"t":1.9483,"c":-2.25},{"t":1.9517,"b":2.45},{"t":1.955,"a":-2.2},{"t":1.9583,"c":2.3},
{"t":1.9617,"b":-2.2},{"t":1.965,"a":2.35},{"t":1.9683,"c":-2.25},{"t":1.9717,"b":2.45},{"t":1.975,"a":-2.2},{"t":1.9783,"c":2.3},
{"t":1.9817,"b":-2.2},{"t":1.985,"a":2.35},{"t":1.9883,"c":-2.25},{"t":1.9917,"b":2.45},{"t":1.995,"a":-2.2},{"t":1.9983,"c":2.3},
{"t":2.0017,"b":-2.2},{"t":2.005,"a":2.35},{"t":2.0083,"c":-2.25},{"t":2.0117,"b":2.45},{"t":2.015,"a":-2.2},{"t":2.0183,"c":2.3},
{"t":2.0217,"b":-2.2},{"t":2.025,"a":2.35},{"t":2.0283,"c":-2.25},{"t":2.0317,"b":2.45},{"t":2.035,"a":-2.2},{"t":2.0383,"c":2.3},
{"t":2.0417,"b":-2.2},{"t":2.045,"a":2.35},{"t":2.0483,"c":-2.25},{"t":2.0517,"b":2.45},{"t":2.055,"a":-2.2},{"t":2.0583,"c":2.3},
{"t":2.0617,"b":-2.2},{"t":2.065,"a":2.35},{"t":2.0683,"c":-2.25},{"t":2.0717,"b":2.45},{"t":2.075,"a":-2.2},{"t":2.0783,"c":2.3},
{"t":2.0817,"b":-2.2},{"t":2.085,"a":2.35},{"t":2.0883,"c":-2.25},{"t":2.0917,"b":2.45},{"t":2.095,"a":-2.2},{"t":2.0983,"c":2.3},
{"t":2.1017,"b":-2.2},{"t":2.105,"a":2.35},{"t":2.1083,"c":-2.25},{"t":2.1117,"b":2.45},{"t":2.115,"a":-2.2},{"t":2.1183,"c":2.3},
{"t":2.1217,"b":-2.2},{"t":2.125,"a":2.35},{"t":2.1283,"c":-2.25},{"t":2.1317,"b":2.45},{"t":2.135,"a":-2.2},{"t":2.1383,"c":2.3},
{"t":2.1417,"b":-2.2},{"t":2.145,"a":2.35},{"t":2.1483,"c":-2.25},{"t":2.1517,"b":2.45},{"t":2.155,"a":-2.2},{"t":2.1583,"c":2.3},
{"t":2.1617,"b":-2.2},{"t":2.165,"a":2.35},{"t":2.1683,"c":-2.25},{"t":2.1717,"b":2.45},{"t":2.175,"a":-2.2},{"t":2.1783,"c":2.3},
{"t":2.1817,"b":-2.2},{"t":2.185,"a":2.35},{"t":2.1883,"c":-2.25},{"t":2.1917,"b":2.45},{"t":2.195,"a":-2.2},{"t":2.1983,"c":2.3},
{"t":2.2017,"b":-2.2},{"t":2.205,"a":2.35},{"t":2.2083,"c":-2.25},{"t":2.2117,"b":2.45},{"t":2.215,"a":-2.2},{"t":2.2183,"c":2.3},
{"t":2.2217,"b":-2.2},{"t":2.225,"a":2.35},{"t":2.2283,"c":-2.25},{"t":2.2317,"b":2.45},{"t":2.235,"a":-2.2},{"t":2.2383,"c":2.3},
{"t":2.2417,"b":-2.2},{"t":2.245,"a":2.35},{"t":2.2483,"c":-2.25},{"t":2.2517,"b":2.45},{"t":2.255,"a":-2.2},{"t":2.2583,"c":2.3},
{"t":2.2617,"b":-2.2},{"t":2.265,"a":2.35},{"t":2.2683,"c":-2.25},{"t":2.2717,"b":2.45},{"t":2.275,"a":-2.2},{"t":2.2783,"c":2.3},
{"t":2.2817,"b":-2.2},{"t":2.285,"a":2.35},{"t":2.2883,"c":-2.25},{"t":2.2917,"b":2.45},{"t":2.295,"a":-2.2},{"t":2.2983,"c":2.3},
{"t":2.3017,"b":-2.2},{"t":2.305,"a":2.35},{"t":2.3083,"c":-2.25},{"t":2.3117,"b":2.45},{"t":2.315,"a":-2.2},{"t":2.3183,"c":2.3},
{"t":2.3217,"b":-2.2},{"t":2.325,"a":2.35},{"t":2.3283,"c":-2.25},{"t":2.3317,"b":2.45},{"t":2.335,"a":-2.2},{"t":2.3383,"c":2.3},
{"t":2.3417,"b":-2.2},{"t":2.345,"a":2.35},{"t":2.3483,"c":-2.25},{"t":2.3517,"b":2.45},{"t":2.355,"a":-2.2},{"t":2.3583,"c":2.3},
{"t":2.3617,"b":-2.2},{"t":2.365,"a":2.35},{"t":2.3683,"c":-2.25},{"t":2.3717,"b":2.45},{"t":2.375,"a":-2.2},{"t":2.3783,"c":2.3},
{"t":2.3817,"b":-2.2},{"t":2.385,"a":2.35},{"t":2.3883,"c":-2.25},{"t":2.3917,"b":2.45},{"t":2.395,"a":-2.2},{"t":2.3983,"c":2.3},
{"t":2.4017,"b":-2.2},{"t":2.405,"a":2.35},{"t":2.4083,"c":-2.25},{"t":2.4117,"b":2.45},{"t":2.415,"a":-2.2},{"t":2.4183,"c":2.3},
{"t":2.4217,"b":-2.2},{"t":2.425,"a":2.35},{"t":2.4283,"c":-2.25},{"t":2.4317,"b":2.45},{"t":2.435,"a":-2.2},{"t":2.4383,"c":2.3},
{"t":2.4417,"b":-2.2},{"t":2.445,"a":2.35},{"t":2.4483,"c":-2.25},{"t":2.4517,"b":2.45},{"t":2.455,"a":-2.2},{"t":2.4583,"c":2.3},
{"t":2.4617,"b":-2.2},{"t":2.465,"a":2.35},{"t":2.4683,"c":-2.25},{"t":2.4717,"b":2.45},{"t":2.475,"a":-2.2},{"t":2.4783,"c":2.3},
{"t":2.4817,"b":-2.2},{"t":2.485,"a":2.35},{"t":2.4883,"c":-2.25},{"t":2.4917,"b":2.45},{"t":2.495,"a":-2.2},{"t":2.4983,"c":2.3},
{"t":2.5,"a":0,"b":-1.5,"c":1.5}]
},
"vconcat":[
{"title":{"text":"(a)","orient":"bottom","font":"Liberation Serif","fontSize":20,"fontWeight":"bold","offset":8,"anchor":"middle","frame":"bounds","dx":34},
 "vconcat":[
 {"title":{"text":"Phase to Phase Voltages of Grid","offset":-9.5},
  "width":719,"height":251,
  "layer":[
   {"data":{"name":"v"},
    "transform":[{"fold":["a","b","c"],"as":["s","v"]},{"filter":"isValid(datum.v)"}],
    "mark":{"type":"line","strokeWidth":1},
    "encoding":{
     "x":{"field":"t","type":"quantitative","scale":{"domain":[0,2.5],"nice":false,"zero":false},"axis":{"title":"Time (sec)","values":[0,0.5,1,1.5,2,2.5],"grid":true,"gridColor":"#e2e2e2","labelPadding":15,"titlePadding":6}},
     "y":{"field":"v","type":"quantitative","scale":{"domain":[-8,8],"nice":false,"zero":false},"axis":{"title":"Amplitude (Volt)","values":[-5,0,5],"labelPadding":11,"titlePadding":8}},
     "color":{"field":"s","type":"nominal","scale":{"domain":["a","b","c"],"range":["#D95319","#EDB120","#0072BD"]},"legend":{"legendX":429,"legendY":4,"labelExpr":"datum.label=='a'?'Vab':datum.label=='b'?'Vbc':'Vca'"}}
    }},
   {"data":{"values":[]},
    "mark":"rule",
    "encoding":{"y":{"field":"v","type":"quantitative","scale":{"domain":[-8,8],"nice":false,"zero":false},"axis":{"orient":"left","title":"×10⁴","titleAngle":0,"titleAlign":"left","titleBaseline":"alphabetic","titleX":3,"titleY":-4,"titleFontWeight":"normal","titleFontSize":14,"titleColor":"#262626","labels":false,"ticks":false,"domain":false,"grid":false}}}}
  ],
  "resolve":{"axis":{"y":"independent"}}
 }]
},
{"title":{"text":"(b)","orient":"bottom","font":"Liberation Serif","fontSize":20,"fontWeight":"bold","offset":8,"anchor":"middle","frame":"bounds","dx":34},
 "vconcat":[
 {"title":{"text":"Phase Current of Grid","offset":-4},
  "width":719,"height":253,
  "data":{"name":"i"},
  "transform":[{"fold":["a","b","c"],"as":["s","v"]},{"filter":"isValid(datum.v)"}],
  "mark":{"type":"line","strokeWidth":1},
  "encoding":{
   "x":{"field":"t","type":"quantitative","scale":{"domain":[0,2.5],"nice":false,"zero":false},"axis":{"title":"Time (sec)","values":[0,0.5,1,1.5,2,2.5],"grid":true,"gridColor":"#e2e2e2","labelPadding":15,"titlePadding":6}},
   "y":{"field":"v","type":"quantitative","scale":{"domain":[-5,5],"nice":false,"zero":false},"axis":{"title":"Current (Amp)","values":[-5,0,5],"labelPadding":11,"titlePadding":8}},
   "color":{"field":"s","type":"nominal","scale":{"domain":["a","b","c"],"range":["#D95319","#EDB120","#0072BD"]},"legend":{"legendX":474,"legendY":4,"columnPadding":8,"labelExpr":"datum.label=='a'?'ia':datum.label=='b'?'ib':'ic'"}}
  }
 }]
}
]
}
